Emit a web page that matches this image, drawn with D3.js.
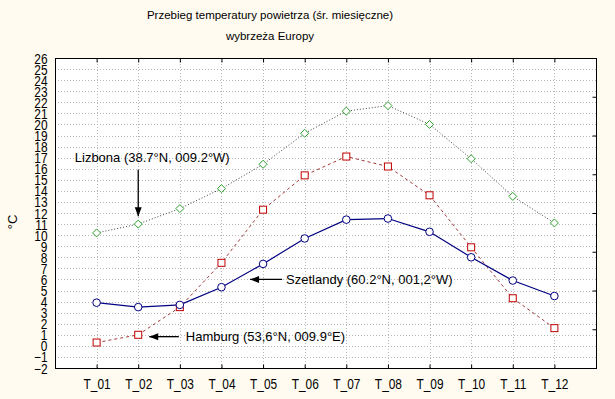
<!DOCTYPE html>
<html>
<head>
<meta charset="utf-8">
<script src="https://cdn.jsdelivr.net/npm/d3@7"></script>
<style>
  body { margin: 0; background: #fffbf0; }
  svg { display: block; }
  text { font-family: "Liberation Sans", Arial, sans-serif; fill: #000; }
  .tick-lbl { font-family: "Liberation Sans Narrow", "Arial Narrow", "Liberation Sans", sans-serif; font-size: 14px; }
</style>
</head>
<body>
<script>
// months
var months = ["T_01","T_02","T_03","T_04","T_05","T_06","T_07","T_08","T_09","T_10","T_11","T_12"];
// mean monthly temperatures
var lizbona   = [10.2, 11.0, 12.4, 14.2, 16.4, 19.2, 21.2, 21.7, 20.0, 16.9, 13.5, 11.1];
var hamburg   = [0.3, 1.0, 3.5, 7.5, 12.3, 15.4, 17.1, 16.2, 13.6, 8.9, 4.3, 1.6];
var szetlandy = [3.9, 3.5, 3.7, 5.3, 7.4, 9.7, 11.4, 11.5, 10.3, 8.0, 5.9, 4.5];
var yTicks = d3.range(-2, 27, 1);

var W = 615, H = 399;
var margin = {top: 58, right: 19, bottom: 31, left: 55};

var svg = d3.select("body").append("svg")
    .attr("width", W)
    .attr("height", H);

// title
svg.append("text").attr("x", 270).attr("y", 19).attr("text-anchor", "middle")
    .style("font-size", "11.5px").text("Przebieg temperatury powietrza (śr. miesięczne)");
svg.append("text").attr("x", 270).attr("y", 40).attr("text-anchor", "middle")
    .style("font-size", "11.5px").text("wybrzeża Europy");

var x = d3.scalePoint()
    .domain(months)
    .range([margin.left, W - margin.right])
    .padding(1);
var y = d3.scaleLinear()
    .domain([-2, 26])
    .range([H - margin.bottom, margin.top]);

var x0 = margin.left, x1 = W - margin.right, y0 = H - margin.bottom, y1 = margin.top;

// plot area
svg.append("rect").attr("x", x0).attr("y", y1)
    .attr("width", x1 - x0).attr("height", y0 - y1).attr("fill", "#fff");

// grid
var grid = svg.append("g").attr("stroke", "#b8b8b8").attr("stroke-dasharray", "1,2").attr("shape-rendering", "crispEdges");
grid.selectAll(".gy").data(yTicks.slice(1, -1)).enter().append("line")
    .attr("x1", x0).attr("x2", x1)
    .attr("y1", function(d) { return Math.round(y(d)) + 0.5; })
    .attr("y2", function(d) { return Math.round(y(d)) + 0.5; });
grid.selectAll(".gx").data(months).enter().append("line")
    .attr("y1", y1).attr("y2", y0)
    .attr("x1", function(d) { return Math.round(x(d)) + 0.5; })
    .attr("x2", function(d) { return Math.round(x(d)) + 0.5; });

// frame
svg.append("rect").attr("x", x0 + 0.5).attr("y", y1 + 0.5)
    .attr("width", x1 - x0).attr("height", y0 - y1)
    .attr("fill", "none").attr("stroke", "#000");

// axes (labels squeezed a bit, the original uses a narrow font)
var yAxis = svg.append("g").attr("transform", "translate(" + (x0 + 0.5) + ",0)")
    .call(d3.axisLeft(y).tickValues(yTicks).tickSize(0).tickPadding(7).tickFormat(d3.format("d")));
yAxis.select(".domain").remove();
yAxis.selectAll("text").attr("class", "tick-lbl").attr("fill", "#000").attr("dy", "0.36em")
    .attr("x", 0).attr("transform", "translate(-8,0) scale(0.85,1)");

var xAxis = svg.append("g").attr("transform", "translate(0," + (y0 + 0.5) + ")")
    .call(d3.axisBottom(x).tickSize(-4).tickPadding(11));
xAxis.select(".domain").remove();
xAxis.selectAll("line").attr("stroke", "#000");
xAxis.selectAll("text").attr("class", "tick-lbl").attr("fill", "#000")
    .attr("transform", "scale(0.85,1)");

var xTop = svg.append("g").attr("transform", "translate(0," + (y1 + 0.5) + ")")
    .call(d3.axisTop(x).tickSize(-4).tickFormat(""));
xTop.select(".domain").remove();
xTop.selectAll("line").attr("stroke", "#000");

var yRight = svg.append("g").attr("transform", "translate(" + (x1 + 0.5) + ",0)")
    .call(d3.axisRight(y).tickValues(d3.range(1.5, 26, 3.5)).tickSize(-4).tickFormat(""));
yRight.select(".domain").remove();
yRight.selectAll("line").attr("stroke", "#000");

// y label
svg.append("text").attr("transform", "translate(17,222) rotate(-90)")
    .attr("text-anchor", "middle").style("font-size", "13px").text("°C");

function series(vals, stroke, dash, width) {
    svg.append("path").datum(vals)
        .attr("fill", "none").attr("stroke", stroke).attr("stroke-width", width)
        .attr("stroke-dasharray", dash)
        .attr("d", d3.line().x(function(d, i) { return x(months[i]); }).y(function(d) { return y(d); }));
}

series(lizbona, "#404040", "1,2", 1);
series(hamburg, "#a03838", "3,3", 1);
series(szetlandy, "#000080", null, 1.2);

// markers
svg.selectAll(".liz").data(lizbona).enter().append("path")
    .attr("transform", function(d, i) { return "translate(" + x(months[i]) + "," + y(d) + ")"; })
    .attr("d", "M0,-4L4,0L0,4L-4,0Z")
    .attr("fill", "#fff").attr("stroke", "#30a030");
svg.selectAll(".ham").data(hamburg).enter().append("rect")
    .attr("x", function(d, i) { return x(months[i]) - 3.5; })
    .attr("y", function(d) { return y(d) - 3.5; })
    .attr("width", 7).attr("height", 7)
    .attr("fill", "#fff").attr("stroke", "#c00000");
svg.selectAll(".sze").data(szetlandy).enter().append("circle")
    .attr("cx", function(d, i) { return x(months[i]); })
    .attr("cy", function(d) { return y(d); })
    .attr("r", 3.8)
    .attr("fill", "#fff").attr("stroke", "#000080");

// annotations with arrows
function arrow(xa, ya, xb, yb) {
    svg.append("line").attr("x1", xa).attr("y1", ya).attr("x2", xb).attr("y2", yb)
        .attr("stroke", "#000").attr("stroke-width", 1.3);
    var ang = Math.atan2(yb - ya, xb - xa);
    var L = 9, w = 3.5;
    var p = [[xb, yb],
             [xb - L * Math.cos(ang) + w * Math.sin(ang), yb - L * Math.sin(ang) - w * Math.cos(ang)],
             [xb - L * Math.cos(ang) - w * Math.sin(ang), yb - L * Math.sin(ang) + w * Math.cos(ang)]];
    svg.append("path").attr("d", "M" + p.join("L") + "Z").attr("fill", "#000");
}
// Lizbona
arrow(x("T_02"), y(15.9), x("T_02"), y(11.7));
svg.append("text").attr("x", x("T_02") + 14).attr("y", y(17)).attr("dy", "0.35em")
    .attr("text-anchor", "middle").style("font-size", "13px").text("Lizbona (38.7°N, 009.2°W)");
// Szetlandy
arrow(x("T_05") + 19, y(6.0), x("T_05") - 13, y(6.0));
svg.append("text").attr("x", x("T_05") + 23).attr("y", y(6.0)).attr("dy", "0.35em")
    .style("font-size", "13px").text("Szetlandy (60.2°N, 001,2°W)");
// Hamburg
arrow(x("T_03") - 1, y(0.83), x("T_02") + 11, y(0.83));
svg.append("text").attr("x", x("T_03") + 6).attr("y", y(0.83)).attr("dy", "0.35em")
    .style("font-size", "13px").text("Hamburg (53,6°N, 009.9°E)");
</script>
</body>
</html>
